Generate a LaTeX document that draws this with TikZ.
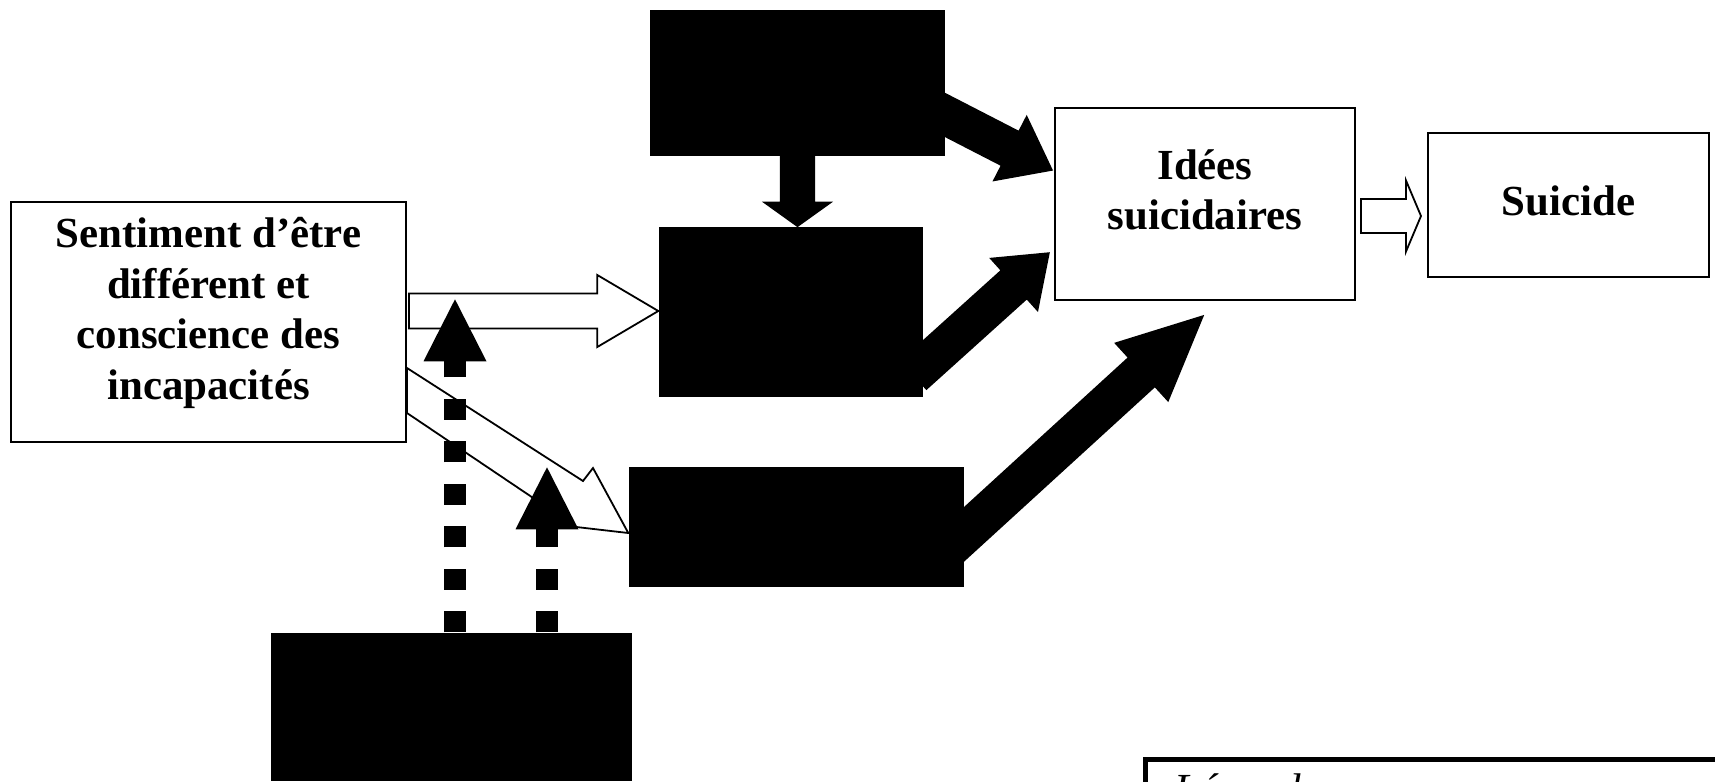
\documentclass[tikz,border=0pt]{standalone}
\usepackage{fontspec}
\setmainfont{Liberation Serif}
\usetikzlibrary{calc,arrows.meta}

% fleche pleine : [style]{depart}{pointe}{demi-corps}{demi-tete}{longueur tete}
\newcommand{\flechebloc}[6][]{%
  \draw[#1] ($(#2)!#4!90:(#3)$) -- ($(#3)!#6!(#2)!#4!-90:(#2)$)
    -- ($(#3)!#6!(#2)!#5!-90:(#2)$) -- (#3)
    -- ($(#3)!#6!(#2)!#5!90:(#2)$) -- ($(#3)!#6!(#2)!#4!90:(#2)$)
    -- ($(#2)!#4!-90:(#3)$) -- cycle;}

\tikzset{
  boite/.style = {draw, line width = 0.2mm, fill = white, inner sep = 0pt},
  texte/.style = {align = center, inner sep = 0pt,
    font = \bfseries\fontsize{12.2}{14.4}\selectfont},
  cache/.style = {fill = black, inner sep = 0pt},
  noire/.style = {fill = black},
  creuse/.style = {draw, fill = white, line width = 0.18mm, line join = miter},
  pointille/.style = {line width = 2.2mm, dash pattern = on 2.1mm off 2.15mm,
    -{Triangle[width = 6.3mm, length = 6.2mm, line width = 0pt]}},
  legende/.style = {draw, line width = 0.5mm, inner sep = 0pt}
}

\begin{document}
\begin{tikzpicture}[x = 0.1mm, y = 0.1mm]
\useasboundingbox (0,0) rectangle (1715,-781);

% boites
\node[boite, minimum width = 39.5mm, minimum height = 24mm] (sentiment) at (208.5,-322) {};
\node[texte] (t-sentiment) at ($(sentiment)+(0,9)$)
  {Sentiment d’être\\différent et\\conscience des\\incapacités};
\node[boite, minimum width = 30mm, minimum height = 19.2mm] (idees) at (1205,-204) {};
\node[texte] (t-idees) at ($(idees)+(0,14)$) {Idées\\suicidaires};
\node[boite, minimum width = 28.1mm, minimum height = 14.4mm] (suicide) at (1568.5,-205) {};
\node[texte] (t-suicide) at ($(suicide)+(0,4)$) {Suicide};
\node[cache, minimum width = 29.5mm, minimum height = 14.6mm] (noirhaut) at (797.5,-83) {};
\node[cache, minimum width = 26.4mm, minimum height = 17mm] (noirmilieu) at (791,-312) {};
\node[cache, minimum width = 33.5mm, minimum height = 12mm] (noirbas) at (796.5,-527) {};
\node[cache, minimum width = 36.1mm, minimum height = 14.8mm] (noirsource) at (451.5,-707) {};

% legende
\node[legende, anchor = north west, minimum width = 70mm, minimum height = 10mm] (legende) at (1143,-757) {};
\node[anchor = north west, inner sep = 0pt, font = \itshape\fontsize{12.2}{14.4}\selectfont] (titre)
  at (1174,-773) {Légende};

% points d'attache
\coordinate (d1) at ($(noirhaut.east)+(-20,-22)$);
\coordinate (a1) at ($(idees.west)+(-2,34)$);
\coordinate (d2) at ($(noirmilieu.east)+(-10,-63)$);
\coordinate (a2) at ($(idees.west)+(-5,-49)$);
\coordinate (d3) at ($(noirbas.east)+(-20,-25)$);
\coordinate (a3) at ($(idees.south)+(-2,-15)$);
\coordinate (d4) at (noirhaut.south);
\coordinate (a4) at (noirhaut.south |- noirmilieu.north);
\coordinate (d5) at ($(sentiment.east)+(2,11)$);
\coordinate (a5) at ($(noirmilieu.west)+(0,1)$);
\coordinate (d6) at ($(idees.east)+(5,-12)$);
\coordinate (a6) at ($(suicide.west)+(-6,-11)$);
\coordinate (d7) at ($(noirsource.north)+(3.5,0)$);
\coordinate (a7) at ($(noirsource.north)+(3.5,333)$);
\coordinate (d8) at ($(noirsource.north)+(95.5,0)$);
\coordinate (a8) at ($(noirsource.north)+(95.5,165)$);

% fleches creuses
\flechebloc[creuse]{d5}{a5}{1.75mm}{3.6mm}{6.1mm}
\flechebloc[creuse]{d6}{a6}{1.7mm}{3.55mm}{1.5mm}
\draw[creuse] ($(sentiment.east)+(0,-46)$) -- ++(176,-113) -- ++(10,13)
  -- ($(noirbas.west)+(0,-6)$) -- ++(-52,6) -- ($(sentiment.east)+(0,-91)$) -- cycle;

% fleches noires
\flechebloc[noire]{d4}{a4}{1.7mm}{3.35mm}{2.4mm}
\flechebloc[noire]{d1}{a1}{1.9mm}{3.6mm}{4.7mm}
\flechebloc[noire]{d2}{a2}{1.9mm}{3.5mm}{4.7mm}
\flechebloc[noire]{d3}{a3}{1.95mm}{3.9mm}{8.3mm}

% fleches pointillees
\draw[pointille] (d7) -- (a7);
\draw[pointille] (d8) -- (a8);
\end{tikzpicture}
\end{document}
